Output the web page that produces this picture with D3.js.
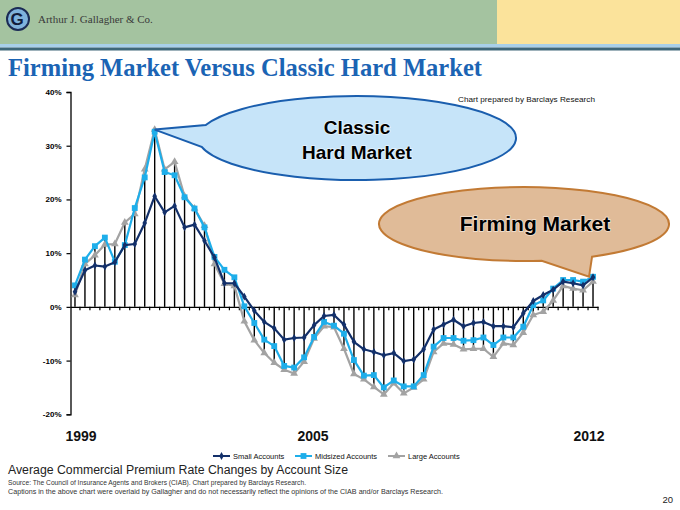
<!DOCTYPE html>
<html><head><meta charset="utf-8">
<script src="https://cdn.jsdelivr.net/npm/d3@7"></script>
<style>html,body{margin:0;padding:0;background:#fff;}svg{display:block;}</style>
</head><body>
<script>
const categories = ["4Q99",
 "1Q00","2Q00","3Q00","4Q00","1Q01","2Q01","3Q01","4Q01","1Q02","2Q02","3Q02","4Q02",
 "1Q03","2Q03","3Q03","4Q03","1Q04","2Q04","3Q04","4Q04","1Q05","2Q05","3Q05","4Q05",
 "1Q06","2Q06","3Q06","4Q06","1Q07","2Q07","3Q07","4Q07","1Q08","2Q08","3Q08","4Q08",
 "1Q09","2Q09","3Q09","4Q09","1Q10","2Q10","3Q10","4Q10","1Q11","2Q11","3Q11","4Q11",
 "1Q12","2Q12","3Q12","4Q12"];
const smallAccounts = [2.8,6.8,7.7,7.5,8.3,11.5,11.7,15.6,20.6,17.6,18.8,14.8,15.3,12.3,9.2,4.4,4.4,1.9,-0.7,-2.8,-4.0,-6.1,-5.8,-5.7,-3.4,-1.7,-1.5,-3.3,-6.5,-7.9,-8.4,-9.0,-8.6,-10.1,-9.8,-7.9,-4.2,-3.3,-2.4,-3.6,-3.0,-2.8,-3.6,-3.6,-3.8,-1.2,1.1,2.2,3.2,4.7,4.4,4.0,5.5];
const midsizedAccounts = [4.0,8.8,11.3,12.9,8.4,11.5,18.4,24.1,32.6,25.1,24.5,20.4,18.3,14.8,9.3,6.9,5.5,0.1,-3.0,-6.1,-7.3,-11.0,-11.3,-9.4,-5.6,-2.8,-3.5,-5.0,-9.9,-12.8,-12.7,-15.0,-13.7,-14.8,-14.8,-12.7,-7.4,-5.8,-5.8,-6.3,-6.2,-5.7,-7.1,-5.7,-5.7,-3.7,0.3,1.2,3.4,5.0,5.0,4.7,5.6];
const largeAccounts = [2.2,8.0,9.6,11.6,11.7,15.7,17.3,25.6,33.0,25.6,27.0,20.6,18.3,15.1,8.0,4.3,3.9,-2.7,-6.2,-8.6,-10.4,-11.7,-12.4,-10.2,-5.9,-3.6,-3.8,-7.8,-12.5,-13.5,-14.9,-16.3,-14.2,-16.1,-15.0,-13.5,-8.4,-6.8,-7.0,-7.9,-7.8,-7.8,-9.3,-6.8,-7.1,-4.8,-1.5,-0.9,1.2,3.9,3.4,3.1,4.7];
const seriesNames = ["Small Accounts","Midsized Accounts","Large Accounts"];
const yTicks = [-20,-10,0,10,20,30,40];
const yearLabels = ["1999","2005","2012"];
const yearLabelCats = ["4Q99","4Q05","4Q12"];

const W = 680, H = 510;
const svg = d3.select("body").append("svg").attr("width", W).attr("height", H);
const SANS = "'Liberation Sans', Arial, sans-serif";
const SERIF = "'Liberation Serif', 'Times New Roman', serif";

// Header
svg.append("rect").attr("x",0).attr("y",0).attr("width",497).attr("height",44).attr("fill","#a4c3a0");
svg.append("rect").attr("x",497).attr("y",0).attr("width",183).attr("height",44).attr("fill","#fbe39b");
svg.append("rect").attr("x",0).attr("y",44).attr("width",W).attr("height",3.5).attr("fill","#a8cfe9");
svg.append("rect").attr("x",0).attr("y",47.5).attr("width",W).attr("height",3).attr("fill","#3e6779");
const logo = svg.append("g").attr("transform","translate(18,19)");
logo.append("circle").attr("r",11).attr("fill","#7fb2dc");
logo.append("circle").attr("r",11).attr("fill","none").attr("stroke","#1b2b55").attr("stroke-width",2);
logo.append("text").attr("x",-1).attr("y",6).attr("text-anchor","middle").attr("font-family",SANS)
  .attr("font-weight","bold").attr("font-size",17).attr("fill","#111c3c").text("G");
svg.append("text").attr("x",38).attr("y",23).attr("font-family",SERIF).attr("font-size",11)
  .attr("fill","#3a3a3a").text("Arthur J. Gallagher & Co.");

// Title
svg.append("text").attr("x",8).attr("y",76).attr("font-family",SERIF).attr("font-weight","bold")
  .attr("font-size",25).attr("fill","#1b64b4").attr("textLength",474).attr("lengthAdjust","spacingAndGlyphs")
  .text("Firming Market Versus Classic Hard Market");

// Scales
const x = d3.scaleBand().domain(categories).range([70, 598]).padding(0);
const cx = c => x(c) + x.bandwidth()/2;
const y = d3.scaleLinear().domain([-20, 40]).range([414.3, 92]);

// Y axis
const yAxis = svg.append("g").attr("transform","translate(70.5,0)")
  .call(d3.axisLeft(y).tickValues(yTicks).tickSize(4).tickPadding(5).tickFormat(d => d + "%"));
yAxis.select(".domain").attr("stroke","#000").attr("stroke-width",1.3);
yAxis.selectAll(".tick line").attr("stroke","#000").attr("stroke-width",1.2);
yAxis.selectAll("text").attr("font-family",SANS).attr("font-size",8).attr("font-weight","bold").attr("fill","#000");

const data = categories.map((c,i) => ({c, s: smallAccounts[i], m: midsizedAccounts[i], l: largeAccounts[i]}));

// drop lines
svg.append("g").selectAll("line").data(data).join("line")
  .attr("x1", d => cx(d.c)).attr("x2", d => cx(d.c))
  .attr("y1", y(0))
  .attr("y2", d => { const vs=[d.s,d.m,d.l]; const ext = vs.reduce((a,b)=>Math.abs(b)>Math.abs(a)?b:a,0); return y(ext); })
  .attr("stroke","#000").attr("stroke-width",1.4);

// X axis (zero line) with ticks at category boundaries
const xAxis = svg.append("g").attr("transform",`translate(0,${y(0)})`)
  .call(d3.axisBottom(x).tickSize(0).tickFormat(""));
xAxis.select(".domain").attr("stroke","#000").attr("stroke-width",1.3);
xAxis.selectAll(".tick").remove();
const boundaries = categories.slice(1).map(c => x(c)).concat([x.range()[1]]);
xAxis.append("g").selectAll("line").data(boundaries).join("line")
  .attr("x1", d => d).attr("x2", d => d).attr("y1", 0).attr("y2", 3.5)
  .attr("stroke","#000").attr("stroke-width",1.2);

// Series
const series = [
  {key:"l", name:seriesNames[2], color:"#a3a3a3", marker:"tri"},
  {key:"m", name:seriesNames[1], color:"#1eaeea", marker:"sq"},
  {key:"s", name:seriesNames[0], color:"#13306a", marker:"dia"}
];
const markerPath = {
  tri: d3.symbol().type(d3.symbolTriangle).size(26)(),
  sq: d3.symbol().type(d3.symbolSquare).size(34)(),
  dia: d3.symbol().type(d3.symbolDiamond).size(18)()
};
series.forEach(s => {
  const line = d3.line().x(d => cx(d.c)).y(d => y(d[s.key]));
  svg.append("path").datum(data).attr("d", line).attr("fill","none")
    .attr("stroke", s.color).attr("stroke-width", 2.2).attr("stroke-linejoin","round");
  svg.append("g").selectAll("path").data(data).join("path")
    .attr("transform", d => `translate(${cx(d.c)},${y(d[s.key])})`)
    .attr("d", markerPath[s.marker]).attr("fill", s.color);
});

// Year labels
const yearDx = [6, -1, -4];
svg.append("g").selectAll("text").data(yearLabels).join("text")
  .attr("x", (d,i) => cx(yearLabelCats[i]) + yearDx[i]).attr("y", 441)
  .attr("text-anchor","middle").attr("font-family",SANS).attr("font-weight","bold")
  .attr("font-size",14).attr("fill","#111").text(d => d);

// Legend
const legendItems = [
  {name:seriesNames[0], color:"#13306a", marker:"dia", x:213},
  {name:seriesNames[1], color:"#1eaeea", marker:"sq", x:295},
  {name:seriesNames[2], color:"#a3a3a3", marker:"tri", x:388}
];
const lg = svg.append("g").attr("transform","translate(0,456)");
legendItems.forEach(it => {
  lg.append("line").attr("x1", it.x).attr("x2", it.x+17).attr("y1",0).attr("y2",0)
    .attr("stroke", it.color).attr("stroke-width",2);
  lg.append("path").attr("transform",`translate(${it.x+8.5},0)`).attr("d", markerPath[it.marker]).attr("fill", it.color);
  lg.append("text").attr("x", it.x+20).attr("y", 3).attr("font-family",SANS).attr("font-size",7.5)
    .attr("fill","#111").text(it.name);
});

// Chart prepared by
svg.append("text").attr("x",458).attr("y",102).attr("font-family",SANS).attr("font-size",8)
  .attr("fill","#111").attr("textLength",137).attr("lengthAdjust","spacingAndGlyphs")
  .text("Chart prepared by Barclays Research");

// Callouts
function ellipsePt(ex, ey, rx, ry, deg){ const t = deg*Math.PI/180; return [ex + rx*Math.cos(t), ey + ry*Math.sin(t)]; }
function callout(ex, ey, rx, ry, a1, a2, tip, fill, stroke){
  const p1 = ellipsePt(ex,ey,rx,ry,a1), p2 = ellipsePt(ex,ey,rx,ry,a2);
  const d = `M${p1[0]},${p1[1]} A${rx},${ry} 0 1 1 ${p2[0]},${p2[1]} L${tip[0]},${tip[1]} Z`;
  svg.append("path").attr("d", d).attr("fill", fill).attr("stroke", stroke).attr("stroke-width",2).attr("stroke-linejoin","miter");
}
const peak = data[8];
callout(357, 138, 159, 42, 198, 168, [cx(peak.c), y(Math.max(peak.s,peak.m,peak.l))], "#c6e4f9", "#1a5eae");
const lastD = data[data.length-1];
callout(524, 224, 145, 37, 83, 62, [cx(lastD.c)-4, y(Math.max(lastD.s,lastD.m,lastD.l))], "#e0bb98", "#c27a34");

function haloText(tx, ty, size, str){
  svg.append("text").attr("x",tx).attr("y",ty).attr("text-anchor","middle").attr("font-family",SANS)
    .attr("font-weight","bold").attr("font-size",size).attr("fill","#000")
    .attr("stroke","#ffffff").attr("stroke-opacity",0.6).attr("stroke-width",1.5).attr("paint-order","stroke").text(str);
}
haloText(357, 134, 19, "Classic");
haloText(357, 159, 19, "Hard Market");
haloText(535, 231, 21, "Firming Market");

// Footer
svg.append("text").attr("x",8).attr("y",474).attr("font-family",SANS).attr("font-size",12.5)
  .attr("fill","#222").attr("textLength",340).attr("lengthAdjust","spacingAndGlyphs")
  .text("Average Commercial Premium Rate Changes by Account Size");
svg.append("text").attr("x",8).attr("y",485).attr("font-family",SANS).attr("font-size",6.5)
  .attr("fill","#333").attr("textLength",298).attr("lengthAdjust","spacingAndGlyphs")
  .text("Source: The Council of Insurance Agents and Brokers (CIAB). Chart prepared by Barclays Research.");
svg.append("text").attr("x",8).attr("y",494).attr("font-family",SANS).attr("font-size",6.5)
  .attr("fill","#333").attr("textLength",435).attr("lengthAdjust","spacingAndGlyphs")
  .text("Captions in the above chart were overlaid by Gallagher and do not necessarily reflect the opinions of the CIAB and/or Barclays Research.");
svg.append("text").attr("x",673).attr("y",503).attr("text-anchor","end").attr("font-family",SANS).attr("font-size",9.5)
  .attr("fill","#222").text("20");
</script>
</body></html>
